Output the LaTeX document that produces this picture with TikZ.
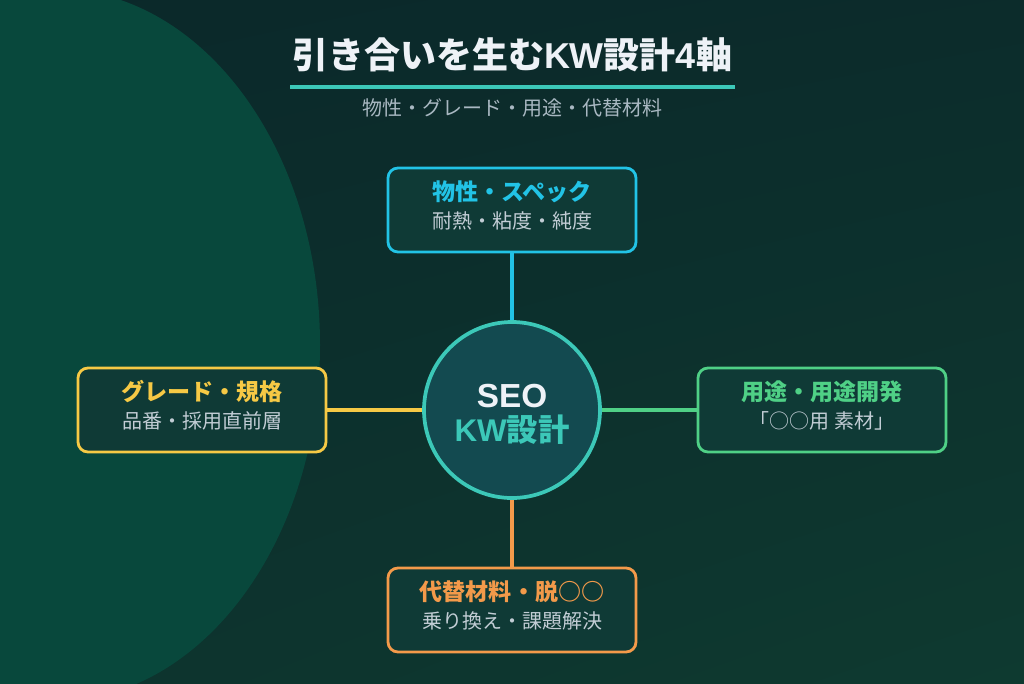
\documentclass[tikz,border=0pt]{standalone}
\usepackage{fontspec}
\setmainfont{Noto Sans CJK JP}
\newfontfamily\latinf{Liberation Sans}
\usetikzlibrary{positioning,shadings}
\definecolor{bgtop}{HTML}{0B282A}
\definecolor{bgbot}{HTML}{0E3A30}
\definecolor{blob}{HTML}{08483C}
\definecolor{boxbg}{HTML}{0F3A36}
\definecolor{hubbg}{HTML}{134A50}
\definecolor{tealc}{HTML}{3CC8B8}
\definecolor{cyanc}{HTML}{22C3E6}
\definecolor{yellowc}{HTML}{F6C945}
\definecolor{greenc}{HTML}{4FD086}
\definecolor{orangec}{HTML}{F39A4A}
\definecolor{titlec}{HTML}{EEF2F7}
\definecolor{subc}{HTML}{A9B8C2}
\definecolor{greyt}{HTML}{C2CDD5}

\begin{document}
\begin{tikzpicture}[x=0.75pt,y=-0.75pt,font=\fontsize{13}{15}\selectfont,
    axisbox/.style={draw=#1,fill=boxbg,line width=2.1pt,rounded corners=7.5pt,
      minimum width=186pt,minimum height=63pt},
    headtxt/.style={font=\fontsize{17.3}{20}\selectfont\bfseries,inner sep=0pt},
    subtxt/.style={greyt,font=\fontsize{15}{18}\selectfont,inner sep=0pt},
    link/.style={line width=2.6pt}]
    \useasboundingbox (0,0) rectangle (1024,683);
    \clip (0,0) rectangle (1024,683);
    % background
    \shade[upper left=bgtop,upper right=bgtop!80!bgbot,lower left=bgtop!40!bgbot,lower right=bgbot]
      (0,0) rectangle (1024,683);
    \fill[blob] (55,345) ellipse [x radius=265,y radius=356];
    % title
    \node[titlec,font=\fontsize{27}{30}\selectfont\bfseries,inner sep=0pt] (title) at (512,55)
      {引き合いを生む{\latinf KW}設計{\latinf 4}軸};
    \draw[tealc,line width=2.6pt] (290,87) -- (735,87);
    \node[subc,font=\fontsize{15}{18}\selectfont,inner sep=0pt] (subtitle) at (512,108) {物性・グレード・用途・代替材料};
    % hub
    \node[circle,draw=tealc,fill=hubbg,line width=2.8pt,minimum size=132pt] (hub) at (512,410) {};
    \node[titlec,font=\fontsize{25}{28}\selectfont\latinf\bfseries,inner sep=0pt] (hub-a) at (512,396) {SEO};
    \node[tealc,font=\fontsize{23.5}{26}\selectfont\bfseries,inner sep=0pt] (hub-b) at (512,430) {{\latinf KW}設計};
    % four axes
    \foreach \n/\x/\y/\c/\head/\sub in {spec/512/210/cyanc/{物性・スペック}/{耐熱・粘度・純度},
        grade/202/410/yellowc/{グレード・規格}/{品番・採用直前層},
        use/822/410/greenc/{用途・用途開発}/{「○○用 素材」},
        alt/512/610/orangec/{代替材料・脱○○}/{乗り換え・課題解決}}{
      \node[axisbox=\c] (\n) at (\x,\y) {};
      \node[headtxt,\c] (\n-h) at (\x,\y-18) {\head};
      \node[subtxt] (\n-s) at (\x,\y+11) {\sub};
      \draw[link,\c] (\n) -- (hub);}
  \end{tikzpicture}
\end{document}
